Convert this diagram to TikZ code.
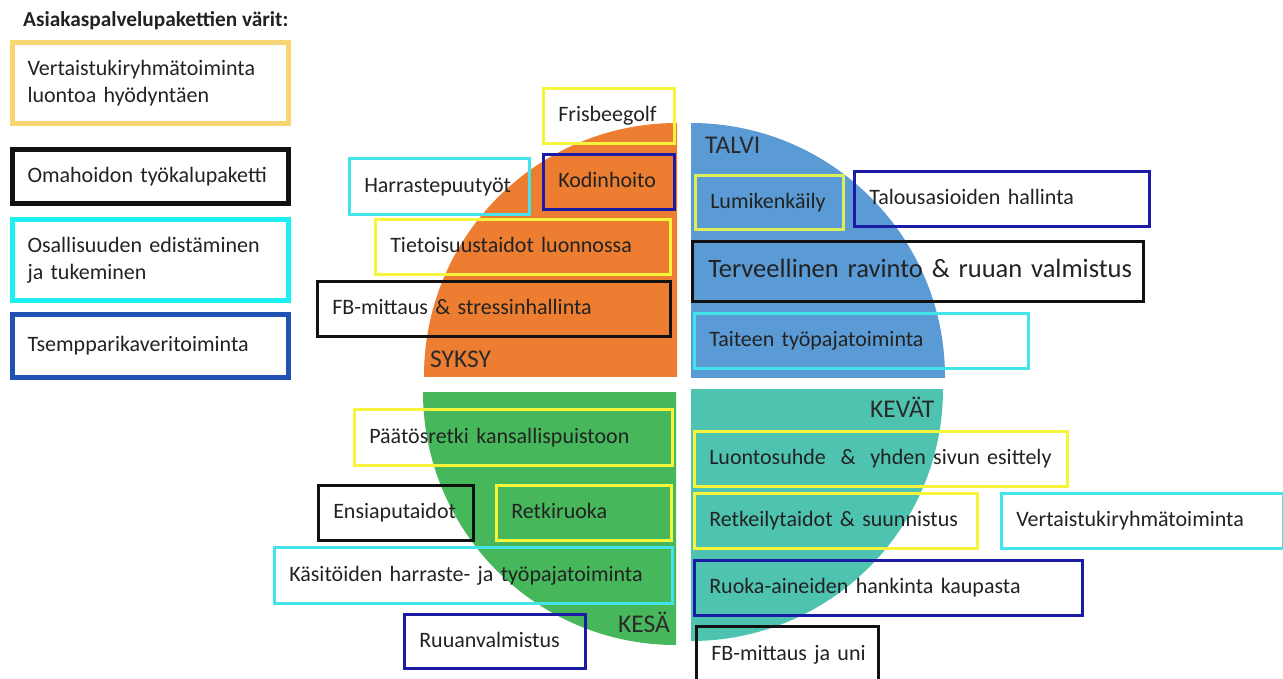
\documentclass[tikz,border=0pt]{standalone}
\usepackage{fontspec}
\setmainfont{Carlito}

% quarter colours
\definecolor{qorange}{HTML}{ED7D31}
\definecolor{qblue}{HTML}{5B9BD5}
\definecolor{qgreen}{HTML}{46B85B}
\definecolor{qteal}{HTML}{4EC4B0}
% box outline colours
\definecolor{byellow}{HTML}{F6F53C}
\definecolor{blime}{HTML}{DDEE5A}
\definecolor{bcyan}{HTML}{42E3EA}
\definecolor{bnavy}{HTML}{1B1BA6}
\definecolor{bblack}{HTML}{111111}
% legend colours
\definecolor{lgold}{HTML}{F6D572}
\definecolor{lcyan}{HTML}{1DEEF2}
\definecolor{lblue}{HTML}{2152B3}
\definecolor{ink}{HTML}{222222}
\definecolor{seasonink}{HTML}{2A2A2A}

\newcommand{\boxfont}{\fontsize{22}{27}\selectfont}
\newcommand{\bigboxfont}{\fontsize{26.5}{31}\selectfont}
\newcommand{\seasonfont}{\fontsize{25.5}{30}\selectfont}

\tikzset{
  pk/.style={draw=#1, line width=2.5pt, anchor=north west,
    inner xsep=15pt, inner ysep=0pt, align=left,
    text height=16pt, text depth=4pt, font=\boxfont, text=ink},
  lg/.style={draw=#1, line width=5pt, anchor=north west,
    inner xsep=15pt, inner ysep=0pt, align=left,
    font=\boxfont, text=ink},
  season/.style={anchor=base west, inner sep=0pt, font=\seasonfont, text=seasonink}
}

% one package box: [extra options], name, colour, x1, y1, x2, y2, text
\newcommand{\pkbox}[8][]{%
  \pgfmathsetmacro{\pkw}{#6-#4}%
  \pgfmathsetmacro{\pkh}{#7-#5}%
  \pgfmathsetmacro{\pkt}{#6-#4-30}%
  \node[pk=#3, minimum width=\pkw pt, minimum height=\pkh pt,
        text width=\pkt pt, #1] (#2) at (#4,#5) {\makebox[\linewidth][l]{#8}};}

% legend box: name, colour, x1, y1, x2, y2, text
\newcommand{\lgbox}[7]{%
  \pgfmathsetmacro{\pkw}{#5-#3}%
  \pgfmathsetmacro{\pkh}{#6-#4}%
  \pgfmathsetmacro{\pkt}{#5-#3-30}%
  \node[lg=#2, minimum width=\pkw pt, minimum height=\pkh pt,
        text width=\pkt pt] (#1) at (#3,#4) {#7};}

\begin{document}
\begin{tikzpicture}[x=1pt, y=-1pt]
\useasboundingbox (0,0) rectangle (1283,678);

% ---- the four seasons as quarter discs ----
\begin{scope}
  \clip (417,116) rectangle (677,376);
  \fill[qorange] (677,376) circle[radius=253pt];
\end{scope}
\begin{scope}
  \clip (691,116) rectangle (951,377);
  \fill[qblue] (691,377) circle[radius=254pt];
\end{scope}
\begin{scope}
  \clip (416,392) rectangle (676,652);
  \fill[qgreen] (676,392) circle[radius=253pt];
\end{scope}
\begin{scope}
  \clip (691,389) rectangle (951,649);
  \fill[qteal] (691,389) circle[radius=252pt];
\end{scope}

% ---- season names ----
\node[season] (syksy) at (430,367) {SYKSY};
\node[season] (talvi) at (705,153) {TALVI};
\node[season] (kesa)  at (618,632) {KESÄ};
\node[season] (kevat) at (870,417) {KEVÄT};

% ---- legend ----
\node[anchor=base west, inner sep=0pt, text=ink,
      font=\fontsize{21.3}{25}\selectfont\bfseries] (title) at (23,26)
      {Asiakaspalvelupakettien värit:};
\lgbox{leg1}{lgold}{10}{40}{286}{121}{Vertaistukiryhmätoiminta\\luontoa hyödyntäen}
\lgbox{leg2}{bblack}{10}{147}{286}{201}{Omahoidon työkalupaketti}
\lgbox{leg3}{lcyan}{10}{217}{286}{298}{Osallisuuden edistäminen\\ja tukeminen}
\lgbox{leg4}{lblue}{10}{312}{286}{375}{Tsempparikaveritoiminta}

% ---- autumn ----
\pkbox{frisbee}{byellow}{542}{87}{673}{142}{Frisbeegolf}
\pkbox{kodin}{bnavy}{542}{153}{673}{208}{Kodinhoito}
\pkbox{harraste}{bcyan}{348}{157}{528}{213}{Harrastepuutyöt}
\pkbox{tietoisuus}{byellow}{374}{218}{669}{273}{Tietoisuustaidot luonnossa}
\pkbox{fbstress}{bblack}{316}{280}{669}{335}{FB-mittaus \& stressinhallinta}

% ---- winter ----
\pkbox{lumi}{blime}{694}{174}{842}{228}{Lumikenkäily}
\pkbox{talous}{bnavy}{853}{170}{1148}{225}{Talousasioiden hallinta}
\pkbox[font=\bigboxfont, text height=18pt, text depth=5pt, inner xsep=16pt]{terveel}{bblack}{691}{240}{1140}{300}{Terveellinen ravinto \& ruuan valmistus}
\pkbox{taide}{bcyan}{693}{312}{1027}{367}{Taiteen työpajatoiminta}

% ---- summer ----
\pkbox{paatos}{byellow}{353}{408}{671}{464}{Päätösretki kansallispuistoon}
\pkbox{ensiapu}{bblack}{317}{484}{472}{539}{Ensiaputaidot}
\pkbox{retkiruoka}{byellow}{495}{484}{670}{539}{Retkiruoka}
\pkbox{kasityo}{bcyan}{273}{546}{671}{602}{Käsitöiden harraste- ja työpajatoiminta}
\pkbox{ruuan}{bnavy}{403}{613}{584}{667}{Ruuanvalmistus}

% ---- spring ----
\pkbox{luonto}{byellow}{693}{430}{1066}{485}{Luontosuhde \ \& \ yhden sivun esittely}
\pkbox{retkeily}{byellow}{693}{492}{976}{547}{Retkeilytaidot \& suunnistus}
\pkbox{vertais}{bcyan}{1000}{492}{1282}{547}{Vertaistukiryhmätoiminta}
\pkbox{ruoka}{bnavy}{693}{559}{1081}{614}{Ruoka-aineiden hankinta kaupasta}
\pkbox{fbuni}{bblack}{695}{625}{877}{681}{FB-mittaus ja uni}

\end{tikzpicture}
\end{document}
